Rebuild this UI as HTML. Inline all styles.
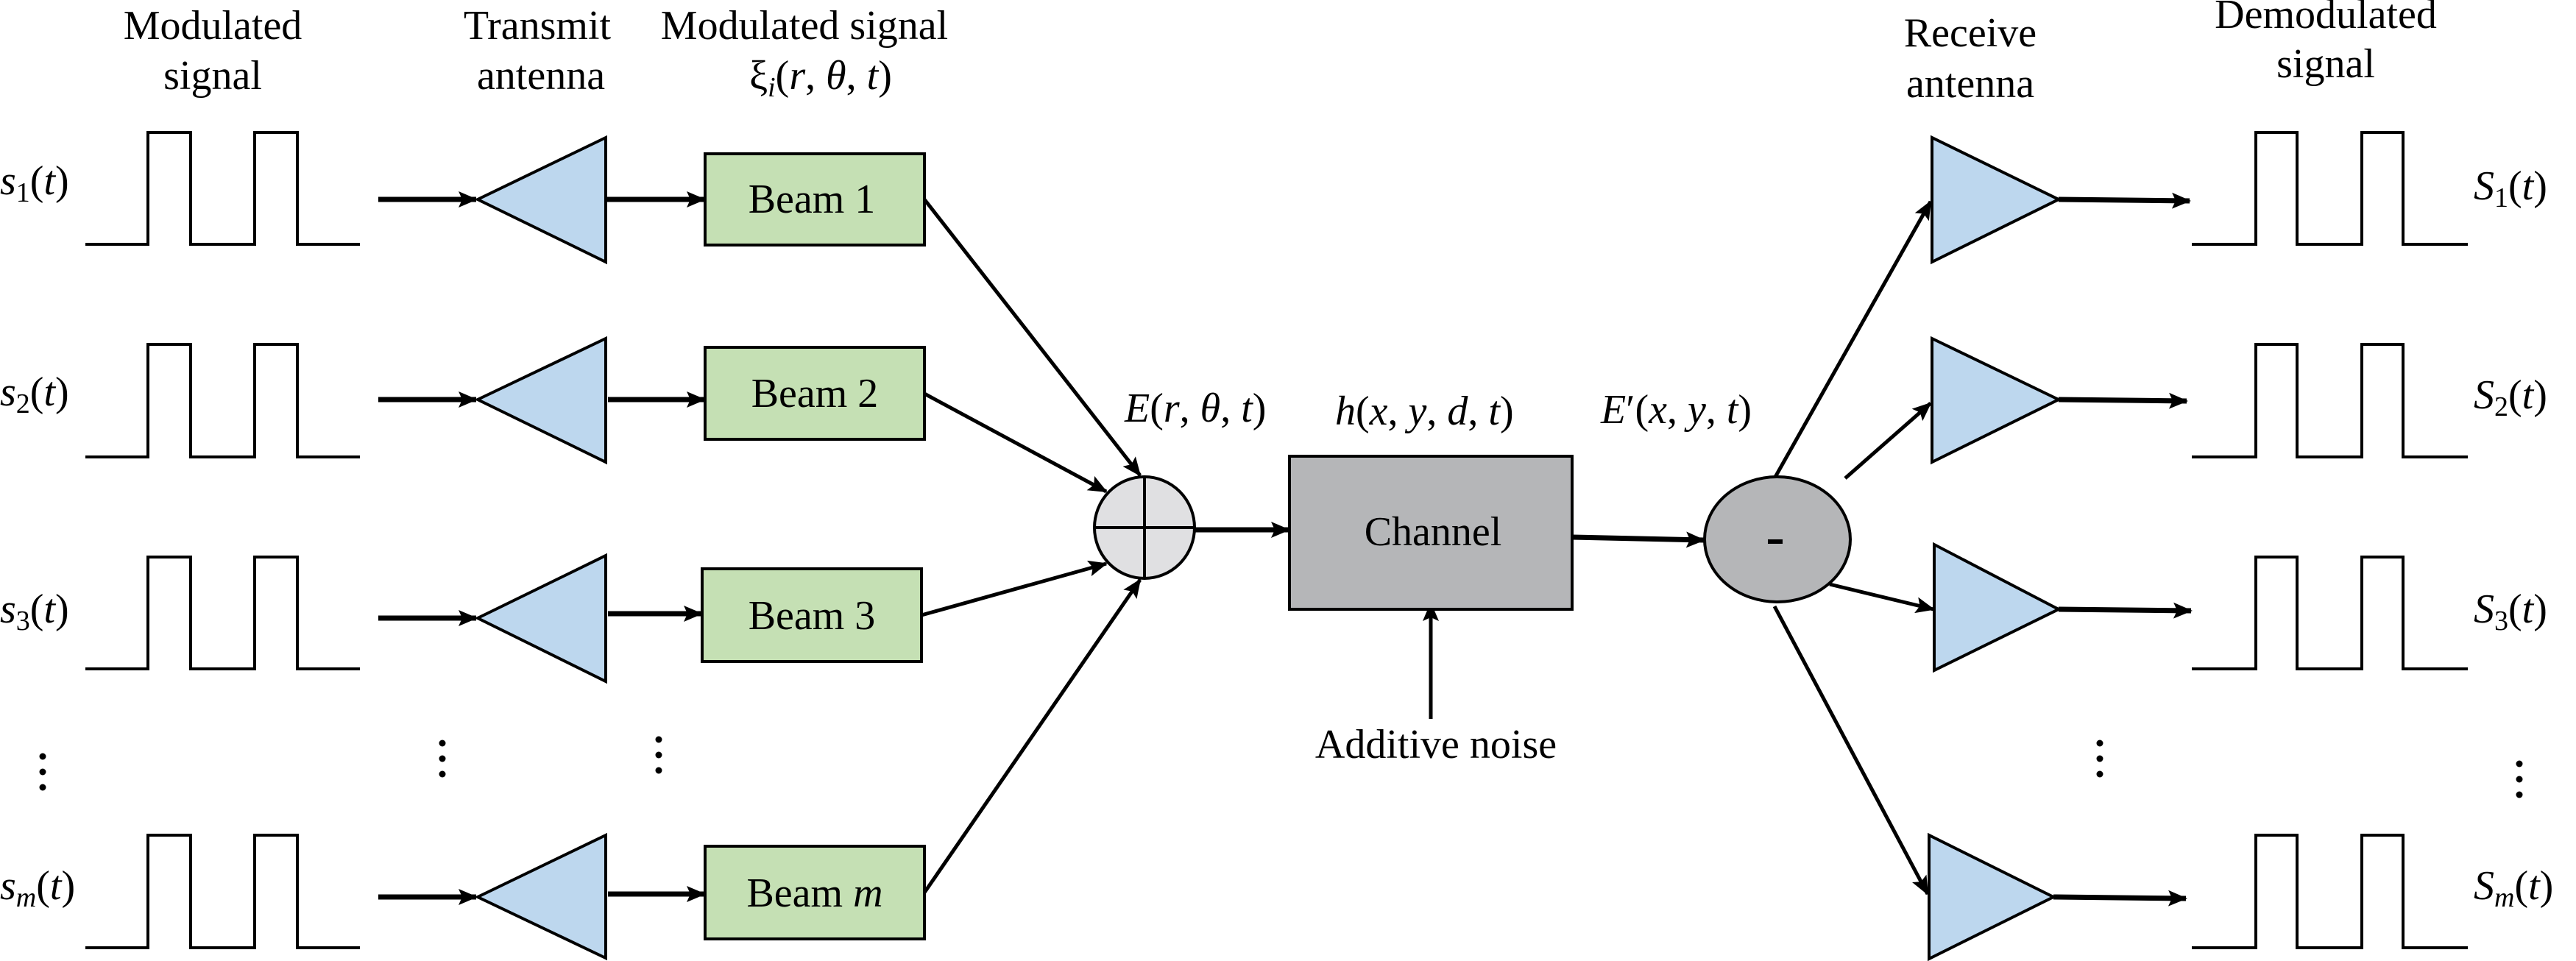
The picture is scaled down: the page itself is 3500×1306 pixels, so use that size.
<!DOCTYPE html>
<html><head><meta charset="utf-8"><style>
html,body{margin:0;padding:0;background:#fff;}
#w{position:relative;width:3500px;height:1306px;overflow:hidden;}
svg{position:absolute;left:0;top:0;display:block;}
.t{position:absolute;font-family:"Liberation Serif","Times New Roman",Times,"DejaVu Serif",serif;font-size:56px;line-height:56px;height:56px;white-space:nowrap;color:#000;}
.c{width:1000px;text-align:center;}
i{font-style:italic;}
.s{font-size:38px;position:relative;top:10px;}
</style></head><body><div id="w">
<svg width="3500" height="1306" viewBox="0 0 3500 1306" xmlns="http://www.w3.org/2000/svg">
<defs>
<marker id="a" markerUnits="userSpaceOnUse" markerWidth="26" markerHeight="22" refX="24" refY="11" orient="auto">
<path d="M0,0 L26,11 L0,22 L5,11 Z" fill="#000"/>
</marker>
</defs>
<g fill="none" stroke="#000" stroke-width="4">
<polyline points="116,332 201,332 201,180 259,180 259,332 346,332 346,180 404,180 404,332 489,332"/>
<polyline points="116,621 201,621 201,468 259,468 259,621 346,621 346,468 404,468 404,621 489,621"/>
<polyline points="116,909 201,909 201,757 259,757 259,909 346,909 346,757 404,757 404,909 489,909"/>
<polyline points="116,1288 201,1288 201,1135 259,1135 259,1288 346,1288 346,1135 404,1135 404,1288 489,1288"/>
<polyline points="2978,332 3065,332 3065,180 3121,180 3121,332 3209,332 3209,180 3265,180 3265,332 3353,332"/>
<polyline points="2978,621 3065,621 3065,468 3121,468 3121,621 3209,621 3209,468 3265,468 3265,621 3353,621"/>
<polyline points="2978,909 3065,909 3065,757 3121,757 3121,909 3209,909 3209,757 3265,757 3265,909 3353,909"/>
<polyline points="2978,1288 3065,1288 3065,1135 3121,1135 3121,1288 3209,1288 3209,1135 3265,1135 3265,1288 3353,1288"/>
</g>
<g fill="#bdd7ee" stroke="#000" stroke-width="4">
<polygon points="649,271 823,187 823,356"/>
<polygon points="649,543 823,460 823,628"/>
<polygon points="649,840 823,755 823,926"/>
<polygon points="649,1219 823,1135 823,1302"/>
<polygon points="2625,187 2625,356 2797,271"/>
<polygon points="2625,460 2625,628 2797,543"/>
<polygon points="2628,740 2628,911 2797,828"/>
<polygon points="2621,1135 2621,1303 2790,1219"/>
</g>
<g fill="#c5e0b4" stroke="#000" stroke-width="4">
<rect x="958" y="209" width="298" height="124"/>
<rect x="958" y="472" width="298" height="125"/>
<rect x="954" y="773" width="298" height="126"/>
<rect x="958" y="1150" width="298" height="126"/>
</g>
<g stroke="#000" stroke-width="7" marker-end="url(#a)">
<line x1="514" y1="271" x2="647" y2="271"/>
<line x1="514" y1="543" x2="647" y2="543"/>
<line x1="514" y1="840" x2="647" y2="840"/>
<line x1="514" y1="1219" x2="647" y2="1219"/>
<line x1="823" y1="271" x2="957" y2="271"/>
<line x1="826" y1="543" x2="957" y2="543"/>
<line x1="826" y1="834" x2="953" y2="834"/>
<line x1="826" y1="1215" x2="957" y2="1215"/>
<line x1="2797" y1="271" x2="2975" y2="273"/>
<line x1="2797" y1="543" x2="2971" y2="545"/>
<line x1="2797" y1="828" x2="2977" y2="830"/>
<line x1="2790" y1="1219" x2="2970" y2="1221"/>
<line x1="1623" y1="720" x2="1751" y2="720"/>
<line x1="2136" y1="730" x2="2315" y2="734"/>
</g>
<g stroke="#000" stroke-width="5" marker-end="url(#a)">
<line x1="1256" y1="271" x2="1549" y2="646"/>
<line x1="1256" y1="535" x2="1503" y2="668"/>
<line x1="1252" y1="836" x2="1503" y2="766"/>
<line x1="1256" y1="1213" x2="1549" y2="788"/>
<line x1="2411" y1="650" x2="2623" y2="274"/>
<line x1="2507" y1="650" x2="2623" y2="548"/>
<line x1="2486" y1="794" x2="2627" y2="828"/>
<line x1="2411" y1="824" x2="2619" y2="1215"/>
<line x1="1944" y1="977" x2="1944" y2="820"/>
</g>
<ellipse cx="1555" cy="717" rx="68" ry="69" fill="#e0e0e2" stroke="#000" stroke-width="4"/>
<line x1="1487" y1="717" x2="1623" y2="717" stroke="#000" stroke-width="4"/>
<line x1="1555" y1="648" x2="1555" y2="786" stroke="#000" stroke-width="4"/>
<rect x="1752" y="620" width="384" height="208" fill="#b5b6b8" stroke="#000" stroke-width="4"/>
<ellipse cx="2415" cy="733" rx="99" ry="85" fill="#b5b6b8" stroke="#000" stroke-width="4"/>
<rect x="2402" y="733" width="20" height="6" fill="#000"/>
<g fill="#000">
<circle cx="58" cy="1028" r="4.5"/><circle cx="58" cy="1049" r="4.5"/><circle cx="58" cy="1070" r="4.5"/>
<circle cx="601" cy="1010" r="4.5"/><circle cx="601" cy="1031" r="4.5"/><circle cx="601" cy="1052" r="4.5"/>
<circle cx="895" cy="1005" r="4.5"/><circle cx="895" cy="1026" r="4.5"/><circle cx="895" cy="1047" r="4.5"/>
<circle cx="2853" cy="1010" r="4.5"/><circle cx="2853" cy="1031" r="4.5"/><circle cx="2853" cy="1052" r="4.5"/>
<circle cx="3423" cy="1038" r="4.5"/><circle cx="3423" cy="1059" r="4.5"/><circle cx="3423" cy="1080" r="4.5"/>
</g>
</svg>

<div class="t c" style="left:-211px;top:7px">Modulated</div>
<div class="t c" style="left:-211px;top:75px">signal</div>
<div class="t c" style="left:230px;top:7px">Transmit</div>
<div class="t c" style="left:235px;top:75px">antenna</div>
<div class="t c" style="left:593px;top:7px">Modulated signal</div>
<div class="t c" style="left:615px;top:75px">ξ<i class="s">i</i>(<i>r</i>, <i>θ</i>, <i>t</i>)</div>
<div class="t c" style="left:2177px;top:17px">Receive</div>
<div class="t c" style="left:2177px;top:86px">antenna</div>
<div class="t c" style="left:2660px;top:-8px">Demodulated</div>
<div class="t c" style="left:2660px;top:59px">signal</div>

<div class="t" style="left:0;top:218px"><i>s</i><span class="s">1</span>(<i>t</i>)</div>
<div class="t" style="left:0;top:505px"><i>s</i><span class="s">2</span>(<i>t</i>)</div>
<div class="t" style="left:0;top:800px"><i>s</i><span class="s">3</span>(<i>t</i>)</div>
<div class="t" style="left:0;top:1176px"><i>s</i><i class="s">m</i>(<i>t</i>)</div>
<div class="t" style="left:3361px;top:225px"><i>S</i><span class="s">1</span>(<i>t</i>)</div>
<div class="t" style="left:3361px;top:509px"><i>S</i><span class="s">2</span>(<i>t</i>)</div>
<div class="t" style="left:3361px;top:800px"><i>S</i><span class="s">3</span>(<i>t</i>)</div>
<div class="t" style="left:3361px;top:1176px"><i>S</i><i class="s">m</i>(<i>t</i>)</div>

<div class="t c" style="left:603px;top:243px">Beam 1</div>
<div class="t c" style="left:607px;top:507px">Beam 2</div>
<div class="t c" style="left:603px;top:809px">Beam 3</div>
<div class="t c" style="left:607px;top:1186px">Beam <i>m</i></div>

<div class="t c" style="left:1447px;top:695px">Channel</div>
<div class="t c" style="left:1451px;top:984px">Additive noise</div>

<div class="t" style="left:1528px;top:527px"><i>E</i>(<i>r</i>, <i>θ</i>, <i>t</i>)</div>
<div class="t" style="left:1814px;top:531px"><i>h</i>(<i>x</i>, <i>y</i>, <i>d</i>, <i>t</i>)</div>
<div class="t" style="left:2175px;top:529px"><i>E</i>′(<i>x</i>, <i>y</i>, <i>t</i>)</div>
</div></body></html>
